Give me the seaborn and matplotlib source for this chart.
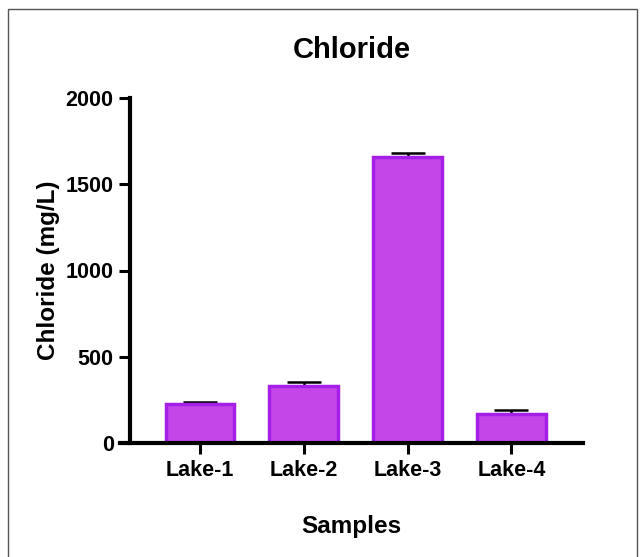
import matplotlib
matplotlib.use("Agg")
import matplotlib.pyplot as plt
import seaborn as sns
import numpy as np
import pandas as pd
from matplotlib.patches import Rectangle

categories = ["Lake-1", "Lake-2", "Lake-3", "Lake-4"]
means = [226, 330, 1658, 168]
errors = [12, 24, 23, 23]

sns.set_style("ticks")
plt.rcParams['font.family'] = ['Liberation Sans', 'DejaVu Sans']
plt.rcParams['font.weight'] = 'bold'
plt.rcParams['text.color'] = 'black'
plt.rcParams['axes.labelcolor'] = 'black'
plt.rcParams['xtick.color'] = 'black'
plt.rcParams['ytick.color'] = 'black'

df = pd.DataFrame({"Samples": categories, "Chloride": means})

fig = plt.figure(figsize=(6.44, 5.57), dpi=100)
ax = fig.add_axes([120/644, 1-443/557, (583-120)/644, (443-98)/557])

x = np.arange(len(categories))
ax.errorbar(x, means, yerr=[np.zeros(len(means)), errors], fmt='none',
            ecolor='black', elinewidth=1.8, capsize=12.5, capthick=1.8, zorder=1)
sns.barplot(data=df, x="Samples", y="Chloride", ax=ax, color="#C445E8",
            edgecolor="#A51FE6", linewidth=2.5, width=0.66, saturation=1, zorder=2)

ax.set_xlim(-0.77, 3.69)
ax.set_ylim(0, 2000)
ax.set_yticks([0, 500, 1000, 1500, 2000])
ax.spines['left'].set_position(('data', -0.67))
ax.spines['top'].set_visible(False)
ax.spines['right'].set_visible(False)
for s in ['left', 'bottom']:
    ax.spines[s].set_linewidth(3)
    ax.spines[s].set_color('black')
ax.tick_params(axis='both', width=2.2, length=8, color='black', labelcolor='black',
               labelsize=15.5, pad=4)
for lbl in ax.get_xticklabels() + ax.get_yticklabels():
    lbl.set_fontweight('bold')

ax.set_xlabel("Samples", fontsize=17.5, fontweight='bold', labelpad=25, color='black')
ax.set_ylabel("Chloride (mg/L)", fontsize=17.5, fontweight='bold', labelpad=4, color='black')
ax.set_title("Chloride", fontsize=21, fontweight='bold', pad=29, color='black')

fig.patches.append(Rectangle((8/644, -0.01), (637-8)/644, 1.01 - 9/557,
                             transform=fig.transFigure, fill=False,
                             edgecolor='#555555', linewidth=1))

fig.savefig("out.png", dpi=100)
